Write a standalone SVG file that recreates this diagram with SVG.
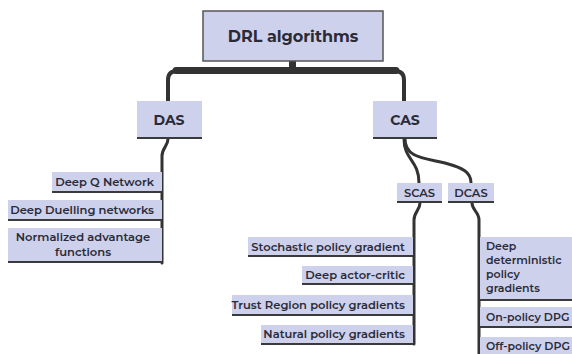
<svg xmlns="http://www.w3.org/2000/svg" width="572" height="354" viewBox="0 0 572 354">
  <style>
    .box { fill: #cdd1ec; }
    .base { stroke: #3a3a3a; stroke-width: 2; fill: none; }
    .wire { stroke: #333333; fill: none; stroke-linecap: round; stroke-linejoin: round; }
    text { font-family: "Montserrat", "Open Sans", "Noto Sans", sans-serif; fill: #2b2b38; }
    .t1 { font-size: 16px; font-weight: 700; }
    .t2 { font-size: 14px; font-weight: 700; }
    .t3 { font-size: 11.5px; font-weight: 600; }
    .t4 { font-size: 11px; font-weight: 600; }
    .r { text-anchor: end; }
    .c { text-anchor: middle; }
  </style>

  <!-- connectors -->
  <g id="connectors">
    <rect x="289" y="60" width="7" height="10" fill="#333333"/>
    <path class="wire" stroke-width="4" d="M168 101 V80 Q168 71 177 71 H395 Q404 71 404 80 V101"/>
    <path class="wire" stroke-width="7" d="M176 70.5 H396"/>
    <!-- DAS branch -->
    <path class="wire" stroke-width="3" d="M168 139 C168 146 162 148 162 156 V263"/>
    <!-- CAS branches -->
    <path class="wire" stroke-width="3" d="M404 139 C404 160 419 160 419 183"/>
    <path class="wire" stroke-width="3" d="M405 139 C405 158 425 158 445 163 C463 168 471 172 471 183"/>
    <!-- SCAS branch -->
    <path class="wire" stroke-width="3" d="M420 203 C420 210 414 212 414 220 V344"/>
    <!-- DCAS branch -->
    <path class="wire" stroke-width="3" d="M472 203 C472 210 479 212 479 220 V354"/>
  </g>

  <g id="root">
    <rect x="203" y="11" width="180" height="50" fill="#cdd1ec" stroke="#555555" stroke-width="1.5"/>
    <text class="t1 c" x="293" y="42">DRL algorithms</text>
  </g>

  <g id="das">
    <rect class="box" x="137" y="101" width="65" height="37"/>
    <path class="base" d="M137 138 H202"/>
    <text class="t2 c" x="169" y="125">DAS</text>
  </g>

  <g id="cas">
    <rect class="box" x="373" y="101" width="64" height="37"/>
    <path class="base" d="M373 138 H437"/>
    <text class="t2 c" x="405" y="125">CAS</text>
  </g>

  <g id="scas">
    <rect class="box" x="397" y="183" width="45" height="19"/>
    <path class="base" d="M397 202 H442"/>
    <text class="t3 c" x="419.5" y="197">SCAS</text>
  </g>

  <g id="dcas">
    <rect class="box" x="448" y="183" width="46" height="19"/>
    <path class="base" d="M448 202 H494"/>
    <text class="t3 c" x="471" y="197">DCAS</text>
  </g>

  <!-- DAS leaves -->
  <g id="dqn">
    <rect class="box" x="52" y="172" width="110" height="20"/>
    <path class="base" d="M52 192 H162"/>
    <text class="t3 r" x="154" y="186">Deep Q Network</text>
  </g>
  <g id="duelling">
    <rect class="box" x="8" y="200" width="154" height="20"/>
    <path class="base" d="M8 220 H162"/>
    <text class="t3 r" x="154" y="214">Deep Duelling networks</text>
  </g>
  <g id="naf">
    <rect class="box" x="8" y="228" width="154" height="34"/>
    <path class="base" d="M8 262 H162"/>
    <text class="t3 c" x="83" y="241">Normalized advantage</text>
    <text class="t3 c" x="83" y="256">functions</text>
  </g>

  <!-- SCAS leaves -->
  <g id="spg">
    <rect class="box" x="248" y="237" width="165" height="19"/>
    <path class="base" d="M248 256 H413"/>
    <text class="t3 r" x="405" y="251">Stochastic policy gradient</text>
  </g>
  <g id="dac">
    <rect class="box" x="302" y="266" width="111" height="18"/>
    <path class="base" d="M302 284 H413"/>
    <text class="t3 r" x="405" y="279">Deep actor-critic</text>
  </g>
  <g id="trpo">
    <rect class="box" x="232" y="295" width="181" height="20"/>
    <path class="base" d="M232 315 H413"/>
    <text class="t3 r" x="405" y="309">Trust Region policy gradients</text>
  </g>
  <g id="npg">
    <rect class="box" x="261" y="325" width="152" height="19"/>
    <path class="base" d="M261 344 H413"/>
    <text class="t3 r" x="405" y="338">Natural policy gradients</text>
  </g>

  <!-- DCAS leaves -->
  <g id="ddpg">
    <rect class="box" x="480" y="237" width="92" height="63"/>
    <path class="base" d="M480 300 H572"/>
    <text class="t4" x="486" y="250">Deep</text>
    <text class="t4" x="486" y="264">deterministic</text>
    <text class="t4" x="486" y="278">policy</text>
    <text class="t4" x="486" y="292">gradients</text>
  </g>
  <g id="on-dpg">
    <rect class="box" x="480" y="307" width="92" height="20"/>
    <path class="base" d="M480 327 H572"/>
    <text class="t4" x="486" y="321">On-policy DPG</text>
  </g>
  <g id="off-dpg">
    <rect class="box" x="480" y="337" width="92" height="17"/>
    <text class="t4" x="486" y="350">Off-policy DPG</text>
  </g>
</svg>
